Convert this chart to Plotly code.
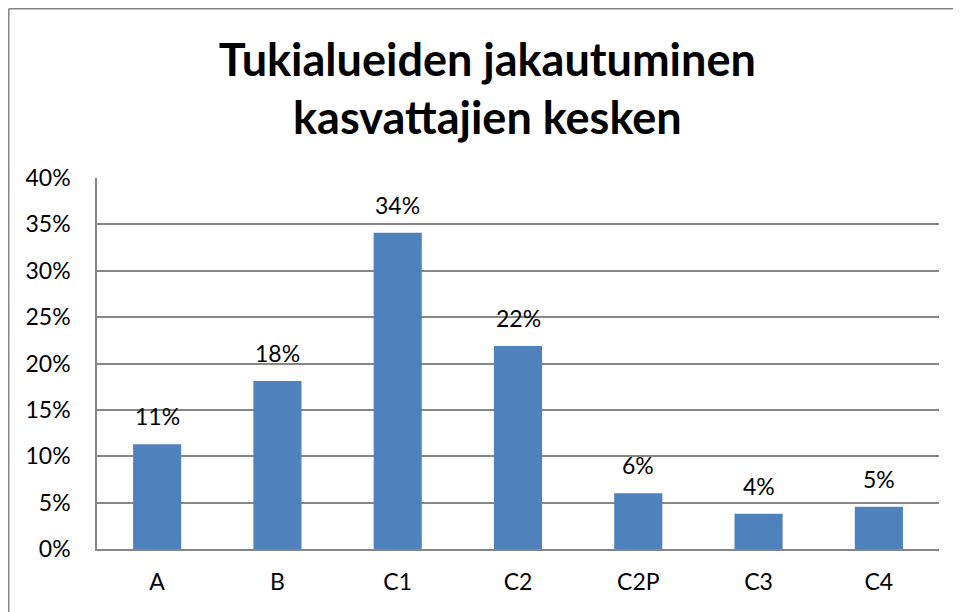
import plotly.graph_objects as go

categories = ["A", "B", "C1", "C2", "C2P", "C3", "C4"]
values = [0.113, 0.181, 0.341, 0.219, 0.060, 0.038, 0.0455]
y_ticks = [0, 0.05, 0.10, 0.15, 0.20, 0.25, 0.30, 0.35, 0.40]
y_tick_labels = ["0%", "5%", "10%", "15%", "20%", "25%", "30%", "35%", "40%"]
title_text = "Tukialueiden jakautuminen<br>kasvattajien kesken"

FONT = "Lato"
GRID = "#868686"

fig = go.Figure()
fig.add_trace(go.Bar(
    x=categories, y=values, width=0.4,
    marker=dict(color="#4F81BD", line=dict(width=0)),
    hoverinfo="skip",
))

for c, v in zip(categories, values):
    fig.add_annotation(x=c, y=v, text=f"{v*100:.0f}%", showarrow=False,
                       yanchor="bottom", yshift=12,
                       font=dict(family=FONT, size=23, color="black"))

# outer chart border (left + top)
fig.add_shape(type="line", xref="paper", yref="paper",
              x0=-0.1048, x1=-0.1048, y0=-0.3, y1=1.456,
              line=dict(color=GRID, width=1.5))
fig.add_shape(type="line", xref="paper", yref="paper",
              x0=-0.1048, x1=1.1, y0=1.456, y1=1.456,
              line=dict(color=GRID, width=1.5))

fig.update_layout(
    width=953, height=604,
    margin=dict(l=89, r=22, t=170, b=63),
    paper_bgcolor="white", plot_bgcolor="white",
    showlegend=False,
    title=dict(text=title_text, x=0.503, xanchor="center", y=0.888, yanchor="middle",
               font=dict(family=FONT, size=45, color="black", weight="bold")),
    font=dict(family=FONT, color="black"),
    bargap=0.6,
)
fig.update_xaxes(
    showline=True, linecolor=GRID, linewidth=1.5,
    ticks="outside", ticklen=12, tickcolor="rgba(0,0,0,0)",
    tickfont=dict(family=FONT, size=23, color="black"),
    showgrid=False,
)
fig.update_yaxes(
    range=[0, 0.4], tickvals=y_ticks, ticktext=y_tick_labels,
    showline=True, linecolor=GRID, linewidth=1.5,
    showgrid=True, gridcolor=GRID, gridwidth=1.5,
    ticks="outside", ticklen=20, tickcolor="rgba(0,0,0,0)",
    tickfont=dict(family=FONT, size=23, color="black"),
    zeroline=False,
)

fig.write_html("out.html")
